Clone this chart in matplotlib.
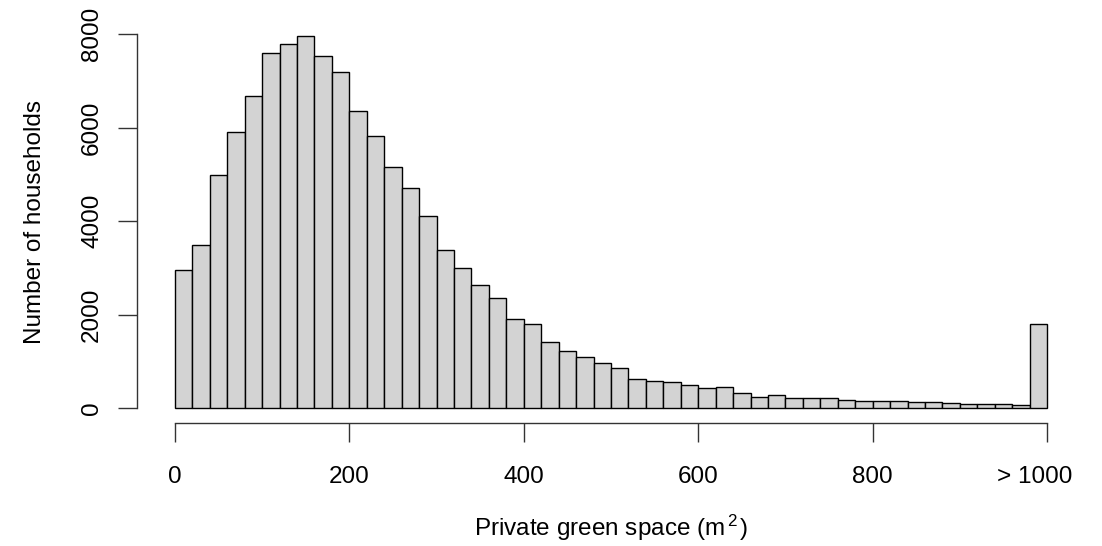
import numpy as np
import matplotlib
matplotlib.use("Agg")
import matplotlib.pyplot as plt
import matplotlib.transforms as mtransforms

plt.rcParams['font.family'] = ['Liberation Sans', 'DejaVu Sans']
plt.rcParams['mathtext.fontset'] = 'custom'
plt.rcParams['mathtext.rm'] = 'Liberation Sans'
plt.rcParams['mathtext.it'] = 'Liberation Sans'

bin_width = 20
bin_starts = list(range(0, 1000, 20))
counts = [2950, 3500, 4985, 5905, 6675, 7600, 7786, 7964, 7536, 7187,
          6353, 5818, 5162, 4713, 4100, 3386, 3001, 2631, 2353, 1904,
          1804, 1412, 1212, 1098, 963, 863, 620, 570, 549, 499,
          420, 456, 321, 228, 271, 220, 207, 214, 178, 150,
          143, 157, 121, 135, 100, 86, 86, 78, 64, 1790]
x_ticks = [0, 200, 400, 600, 800, 1000]
x_tick_labels = ['0', '200', '400', '600', '800', '> 1000']
y_ticks = [0, 2000, 4000, 6000, 8000]
x_label = 'Private green space (m$^{\\,2\\,}$)'
y_label = 'Number of households'

FS = 17.5
W, H = 1102, 546
fig = plt.figure(figsize=(W / 100, H / 100), dpi=100)
left, right, bottom, top = 140, 1082, 423, 21
ax = fig.add_axes([left / W, 1 - bottom / H, (right - left) / W, (bottom - top) / H])

ax.bar(bin_starts, counts, width=bin_width, align='edge', color='#D3D3D3',
       edgecolor='black', linewidth=1.0)

ax.set_xlim(-40, 1040)
ax.set_ylim(-318.6, 8282)
for s in ['top', 'right']:
    ax.spines[s].set_visible(False)
ax.spines['left'].set_bounds(0, 8000)
ax.spines['bottom'].set_bounds(0, 1000)
ax.spines['left'].set_position(('outward', 2))
for s in ['left', 'bottom']:
    ax.spines[s].set_color('#333333')
    ax.spines[s].set_linewidth(1.0)

ax.set_xticks(x_ticks)
ax.set_xticklabels(x_tick_labels)
ax.set_yticks(y_ticks)
ax.set_yticklabels([str(v) for v in y_ticks], rotation=90, va='center')
ax.tick_params(axis='both', length=14, width=1.0, color='#333333', labelsize=FS,
               labelcolor='black')
ax.tick_params(axis='x', pad=17)
ax.tick_params(axis='y', pad=10.5)

# the "> 1000" label sits slightly left of its tick in the reference
last = ax.get_xticklabels()[-1]
last.set_transform(last.get_transform() +
                   mtransforms.ScaledTranslation(-12 / 100, 0, fig.dpi_scale_trans))

ax.set_xlabel(x_label, fontsize=FS, labelpad=18)
ax.set_ylabel(y_label, fontsize=FS, labelpad=25)

fig.savefig('out.png', dpi=100)
